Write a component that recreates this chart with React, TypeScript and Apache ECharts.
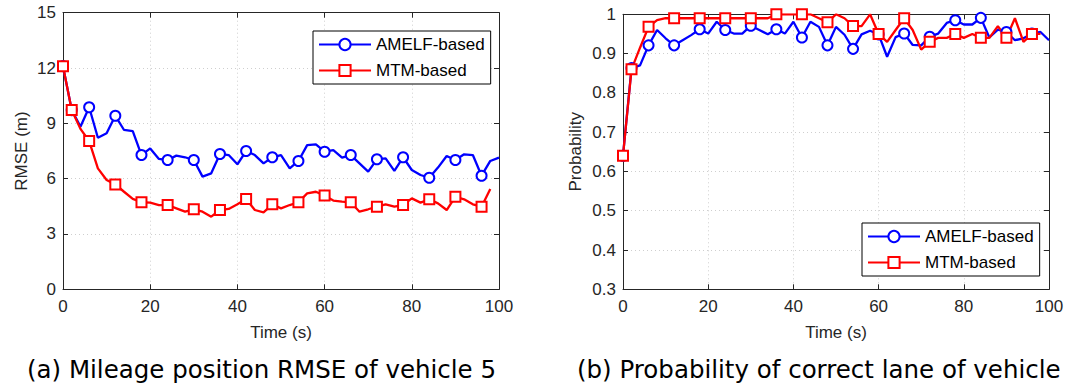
import React, { useEffect, useRef } from "react";
import * as echarts from "echarts";

const timeAMELF = [0, 2, 4, 6, 8, 10, 12, 14, 16, 18, 20, 22, 24, 26, 28, 30, 32, 34, 36, 38, 40, 42, 44, 46, 48, 50, 52, 54, 56, 58, 60, 62, 64, 66, 68, 70, 72, 74, 76, 78, 80, 82, 84, 86, 88, 90, 92, 94, 96, 98, 100];
const timeMTM = [0, 2, 4, 6, 8, 10, 12, 14, 16, 18, 20, 22, 24, 26, 28, 30, 32, 34, 36, 38, 40, 42, 44, 46, 48, 50, 52, 54, 56, 58, 60, 62, 64, 66, 68, 70, 72, 74, 76, 78, 80, 82, 84, 86, 88, 90, 92, 94, 96, 98];
const markerTimes = [0, 2, 6, 12, 18, 24, 30, 36, 42, 48, 54, 60, 66, 72, 78, 84, 90, 96];

const rmseAMELF = [12.1, 9.72, 8.82, 9.87, 8.22, 8.46, 9.41, 8.64, 8.58, 7.28, 7.64, 7.07, 7.01, 7.25, 7.16, 7.01, 6.11, 6.29, 7.34, 7.28, 6.78, 7.5, 7.28, 6.83, 7.16, 7.28, 6.56, 6.96, 7.82, 7.86, 7.46, 7.55, 7.14, 7.28, 6.83, 6.38, 7.05, 7.1, 6.42, 7.16, 6.47, 6.2, 6.05, 6.6, 7.23, 7.01, 7.32, 7.28, 6.16, 6.96, 7.14];
const rmseMTM = [12.1, 9.72, 8.7, 8.04, 6.56, 5.93, 5.69, 5.29, 4.9, 4.72, 4.7, 4.57, 4.57, 4.39, 4.21, 4.34, 4.21, 3.94, 4.3, 4.36, 4.61, 4.9, 4.3, 4.17, 4.61, 4.39, 4.57, 4.72, 5.2, 5.29, 5.08, 4.81, 4.75, 4.72, 4.21, 4.34, 4.48, 4.61, 4.48, 4.57, 4.93, 4.7, 4.88, 4.66, 4.3, 5.02, 4.88, 4.61, 4.48, 5.44];

const probAMELF = [0.64, 0.863, 0.87, 0.921, 0.96, 0.939, 0.921, 0.934, 0.947, 0.962, 0.951, 0.981, 0.96, 0.951, 0.951, 0.971, 0.96, 0.949, 0.962, 0.951, 0.981, 0.941, 0.981, 0.968, 0.921, 0.968, 0.948, 0.912, 0.949, 0.958, 0.949, 0.892, 0.942, 0.951, 0.922, 0.921, 0.943, 0.951, 0.978, 0.985, 0.974, 0.974, 0.991, 0.941, 0.961, 0.955, 0.934, 0.939, 0.951, 0.955, 0.934];
const probMTM = [0.64, 0.86, 0.915, 0.968, 0.985, 0.99, 0.99, 0.99, 0.99, 0.99, 0.99, 0.99, 0.99, 0.99, 0.99, 0.99, 0.99, 0.99, 1.0, 1.0, 1.0, 1.0, 1.0, 0.99, 0.98, 1.0, 0.99, 0.97, 0.97, 1.0, 0.95, 0.93, 0.96, 0.99, 0.96, 0.91, 0.93, 0.94, 0.94, 0.95, 0.94, 0.95, 0.94, 0.94, 0.97, 0.94, 0.99, 0.93, 0.95, 0.95];

const timeTicks = [0, 20, 40, 60, 80, 100];
const rmseTicks = [0, 3, 6, 9, 12, 15];
const probTicks = [0.3, 0.4, 0.5, 0.6, 0.7, 0.8, 0.9, 1];

const seriesNames = ["AMELF-based", "MTM-based"];
const captionA = "(a) Mileage position RMSE of vehicle 5";
const captionB = "(b) Probability of correct lane of vehicle";

const BLUE = "#0000ff";
const RED = "#ff0000";
const AX = "#262626";
const TICK_FONT = 17;
const NAME_FONT = 17;
const FONT = "Liberation Sans";

function toData(times: number[], vals: number[], symbol: string) {
  return times.map((t, i) => ({
    value: [t, vals[i]],
    symbol: markerTimes.includes(t) ? symbol : "none",
  }));
}

export default function App() {
  const ref = useRef<HTMLDivElement>(null);
  useEffect(() => {
    document.body.style.margin = "0";
    if (!ref.current) return;
    const chart = echarts.init(ref.current, undefined, { renderer: "svg" });

    const grids = [
      { left: 63, top: 12.7, width: 436, height: 276.6 },
      { left: 623, top: 14.3, width: 426, height: 275 },
    ];

    const baseX = (gi: number, pos: "bottom" | "top", name?: string) => ({
      type: "value" as const,
      gridIndex: gi,
      position: pos,
      min: timeTicks[0],
      max: timeTicks[timeTicks.length - 1],
      interval: timeTicks[1] - timeTicks[0],
      name: pos === "bottom" ? name : undefined,
      nameLocation: "middle" as const,
      nameGap: 35,
      nameTextStyle: { color: AX, fontSize: NAME_FONT, fontFamily: FONT },
      axisLine: { show: true, onZero: false, lineStyle: { color: AX, width: 1 } },
      axisTick: { show: true, inside: true, length: 5, lineStyle: { color: AX } },
      axisLabel: {
        show: pos === "bottom",
        color: AX,
        fontSize: TICK_FONT,
        fontFamily: FONT,
        margin: 9,
      },
      splitLine: {
        show: pos === "bottom",
        lineStyle: { color: "#cfcfcf", type: [1, 3] as any, width: 1 },
      },
    });

    const baseY = (
      gi: number,
      pos: "left" | "right",
      ticks: number[],
      name: string,
      gap: number,
      fmt: (v: number) => string
    ) => ({
      type: "value" as const,
      gridIndex: gi,
      position: pos,
      min: ticks[0],
      max: ticks[ticks.length - 1],
      interval: +(ticks[1] - ticks[0]).toFixed(6),
      name: pos === "left" ? name : undefined,
      nameLocation: "middle" as const,
      nameGap: gap,
      nameRotate: 90,
      nameTextStyle: { color: AX, fontSize: NAME_FONT, fontFamily: FONT },
      axisLine: { show: true, onZero: false, lineStyle: { color: AX, width: 1 } },
      axisTick: { show: true, inside: true, length: 5, lineStyle: { color: AX } },
      axisLabel: {
        show: pos === "left",
        color: AX,
        fontSize: TICK_FONT,
        fontFamily: FONT,
        margin: 7,
        formatter: fmt,
      },
      splitLine: {
        show: pos === "left",
        lineStyle: { color: "#cfcfcf", type: [1, 3] as any, width: 1 },
      },
    });

    const lineSeries = (
      name: string,
      xi: number,
      yi: number,
      times: number[],
      vals: number[],
      color: string,
      symbol: string
    ) => ({
      type: "line" as const,
      name,
      xAxisIndex: xi,
      yAxisIndex: yi,
      data: toData(times, vals, symbol),
      symbol,
      symbolSize: 10,
      showAllSymbol: true,
      color,
      lineStyle: { color, width: 2.3 },
      itemStyle: { color, borderColor: color, borderWidth: 2.2 },
      emphasis: { disabled: true },
    });

    const legendCfg = (left: number, top: number) => ({
      show: true,
      left,
      top,
      orient: "vertical" as const,
      data: seriesNames,
      itemWidth: 52,
      itemHeight: 14,
      itemGap: 9,
      padding: [5, 6, 5, 5],
      borderColor: "#000",
      borderWidth: 1,
      backgroundColor: "#fff",
      textStyle: { color: "#000", fontSize: 17, fontFamily: FONT },
      selectedMode: false,
    });

    const fmtInt = (v: number) => String(v);
    const fmtProb = (v: number) => String(+v.toFixed(1));

    chart.setOption({
      animation: false,
      backgroundColor: "#fff",
      textStyle: { fontFamily: FONT },
      grid: grids,
      xAxis: [
        baseX(0, "bottom", "Time (s)"),
        baseX(0, "top"),
        baseX(1, "bottom", "Time (s)"),
        baseX(1, "top"),
      ],
      yAxis: [
        baseY(0, "left", rmseTicks, "RMSE (m)", 33, fmtInt),
        baseY(0, "right", rmseTicks, "", 0, fmtInt),
        baseY(1, "left", probTicks, "Probability", 39, fmtProb),
        baseY(1, "right", probTicks, "", 0, fmtProb),
      ],
      legend: [legendCfg(313, 31), legendCfg(862, 223)],
      series: [
        lineSeries(seriesNames[0], 0, 0, timeAMELF, rmseAMELF, BLUE, "emptyCircle"),
        lineSeries(seriesNames[1], 0, 0, timeMTM, rmseMTM, RED, "emptyRect"),
        lineSeries(seriesNames[0], 2, 2, timeAMELF, probAMELF, BLUE, "emptyCircle"),
        lineSeries(seriesNames[1], 2, 2, timeMTM, probMTM, RED, "emptyRect"),
      ],
      graphic: [
        {
          type: "text",
          left: 27,
          top: 357,
          style: { text: captionA, fill: "#000", fontSize: 24.5, fontFamily: "DejaVu Sans" },
        },
        {
          type: "text",
          left: 577,
          top: 357,
          style: { text: captionB, fill: "#000", fontSize: 24.5, fontFamily: "DejaVu Sans" },
        },
      ],
    });
    return () => chart.dispose();
  }, []);
  return <div ref={ref} style={{ width: 1073, height: 391 }} />;
}
